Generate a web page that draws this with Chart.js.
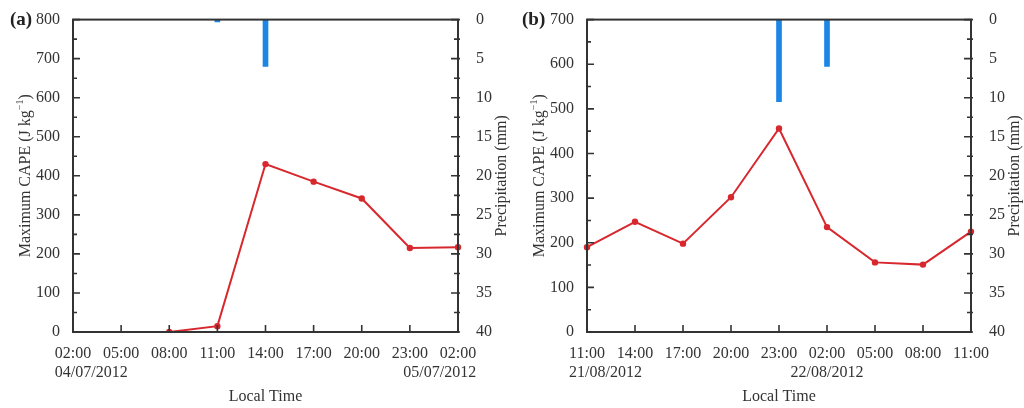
<!DOCTYPE html>
<html lang="en">
<head>
<meta charset="UTF-8">
<title>Maximum CAPE and precipitation</title>
<script src="https://cdn.jsdelivr.net/npm/chart.js"></script>
<style>
    body { margin: 0; background: #fff; }
    .row { display: flex; width: 1024px; height: 408px; }
    canvas { display: block; }
</style>
</head>
<body>
<div class="row">
    <canvas id="chartA" width="512" height="408"></canvas>
    <canvas id="chartB" width="512" height="408"></canvas>
</div>
<script>
// panel (a)
const timesA = ['02:00', '05:00', '08:00', '11:00', '14:00', '17:00', '20:00', '23:00', '02:00'];
const datesA = ['04/07/2012', '', '', '', '', '', '', '', '05/07/2012'];
const capeA = [null, null, 0, 15, 430, 385, 342, 215, 217];
const rainA = [null, null, null, 0.3, 6, null, null, null, null];

// panel (b)
const timesB = ['11:00', '14:00', '17:00', '20:00', '23:00', '02:00', '05:00', '08:00', '11:00'];
const datesB = ['21/08/2012', '', '', '', '', '22/08/2012', '', '', ''];
const capeB = [190, 247, 198, 302, 456, 235, 156, 151, 225];
const rainB = [null, null, null, null, 10.5, 6, null, null, null];

const FONT = 'Liberation Serif';
const AXIS = '#333';

const framePlugin = {
    id: 'frame',
    afterDraw(chart, args, opts) {
        const ctx = chart.ctx;
        const a = chart.chartArea;
        const x = chart.scales.x, y = chart.scales.y, y2 = chart.scales.y2;
        ctx.save();
        ctx.strokeStyle = AXIS;
        ctx.lineWidth = 2;
        ctx.strokeRect(a.left, a.top, a.right - a.left, a.bottom - a.top);

        ctx.lineWidth = 1.6;
        ctx.beginPath();
        // x ticks, pointing up
        for (let i = 0; i < chart.data.labels.length; i++) {
            const px = x.getPixelForValue(i);
            ctx.moveTo(px, a.bottom);
            ctx.lineTo(px, a.bottom - 7);
        }
        // left ticks
        for (let v = 0; v <= opts.capeMax; v += 50) {
            const py = y.getPixelForValue(v);
            const len = v % 100 === 0 ? 7 : 4;
            ctx.moveTo(a.left, py);
            ctx.lineTo(a.left + len, py);
        }
        // right ticks
        for (let v = 0; v <= 40; v += 2.5) {
            const py = y2.getPixelForValue(v);
            const len = v % 5 === 0 ? 7 : 4;
            ctx.moveTo(a.right + 2, py);
            ctx.lineTo(a.right - len, py);
        }
        ctx.stroke();

        ctx.fillStyle = '#333';
        ctx.font = '16px "' + FONT + '"';
        ctx.textBaseline = 'middle';

        // date line under the time labels
        const dates = opts.dates;
        for (let i = 0; i < dates.length; i++) {
            if (!dates[i]) continue;
            const px = x.getPixelForValue(i);
            const half = ctx.measureText(chart.data.labels[i]).width / 2;
            if (i === 0) {
                ctx.textAlign = 'left';
                ctx.fillText(dates[i], px - half, a.bottom + 41);
            } else if (i === dates.length - 1) {
                ctx.textAlign = 'right';
                ctx.fillText(dates[i], px + half, a.bottom + 41);
            } else {
                ctx.textAlign = 'center';
                ctx.fillText(dates[i], px, a.bottom + 41);
            }
        }

        // x title
        ctx.textAlign = 'center';
        ctx.fillText('Local Time', (a.left + a.right) / 2, a.bottom + 65);

        // left title
        const midY = (a.top + a.bottom) / 2;
        ctx.save();
        ctx.translate(a.left - 47, midY);
        ctx.rotate(-Math.PI / 2);
        const t1 = 'Maximum CAPE (J kg';
        const w1 = ctx.measureText(t1).width;
        ctx.font = '10px "' + FONT + '"';
        const w2 = ctx.measureText('\u22121').width;
        ctx.font = '16px "' + FONT + '"';
        const w3 = ctx.measureText(')').width;
        let sx = -(w1 + w2 + w3) / 2;
        ctx.textAlign = 'left';
        ctx.fillText(t1, sx, 0);
        ctx.font = '10px "' + FONT + '"';
        ctx.fillText('\u22121', sx + w1, -6);
        ctx.font = '16px "' + FONT + '"';
        ctx.fillText(')', sx + w1 + w2, 0);
        ctx.restore();

        // right title
        ctx.save();
        ctx.translate(a.right + 44, midY);
        ctx.rotate(-Math.PI / 2);
        ctx.textAlign = 'center';
        ctx.fillText('Precipitation (mm)', 0, 0);
        ctx.restore();

        // panel letter
        ctx.font = 'bold 19px "' + FONT + '"';
        ctx.textAlign = 'left';
        ctx.fillStyle = '#222';
        ctx.fillText(opts.panel, opts.panelX, a.top);
        ctx.restore();
    }
};

function makeChart(id, panel, panelX, times, dates, cape, rain, capeMax, plotLeft, plotRight) {
    const tickFont = { family: FONT, size: 16 };
    return new Chart(document.getElementById(id), {
        type: 'bar',
        data: {
            labels: times,
            datasets: [
                {
                    type: 'line',
                    data: cape,
                    yAxisID: 'y',
                    borderColor: '#d8282e',
                    backgroundColor: '#d8282e',
                    borderWidth: 2,
                    pointRadius: 2.2,
                    pointHoverRadius: 2.2,
                    tension: 0,
                    spanGaps: false,
                    order: 1
                },
                {
                    type: 'bar',
                    data: rain,
                    yAxisID: 'y2',
                    backgroundColor: '#1c86e6',
                    barThickness: 5,
                    order: 2
                }
            ]
        },
        options: {
            responsive: false,
            animation: false,
            layout: { padding: { top: 17, left: 0, right: 0, bottom: 0 } },
            plugins: {
                legend: { display: false },
                tooltip: { enabled: false },
                frame: { panel: panel, panelX: panelX, dates: dates, capeMax: capeMax }
            },
            scales: {
                x: {
                    type: 'category',
                    offset: false,
                    grid: { display: false },
                    border: { display: false },
                    ticks: { font: tickFont, color: '#333', padding: 4, maxRotation: 0, autoSkip: false },
                    afterFit: s => { s.height = 76; }
                },
                y: {
                    position: 'left',
                    min: 0,
                    max: capeMax,
                    grid: { display: false },
                    border: { display: false },
                    ticks: { stepSize: 100, font: tickFont, color: '#333', padding: 5 },
                    afterFit: s => { s.width = plotLeft; }
                },
                y2: {
                    position: 'right',
                    min: 0,
                    max: 40,
                    reverse: true,
                    grid: { display: false },
                    border: { display: false },
                    ticks: { stepSize: 5, font: tickFont, color: '#333', padding: 10 },
                    afterFit: s => { s.width = 512 - plotRight; }
                }
            }
        },
        plugins: [framePlugin]
    });
}

makeChart('chartA', '(a)', 10, timesA, datesA, capeA, rainA, 800, 73, 458);
makeChart('chartB', '(b)', 10, timesB, datesB, capeB, rainB, 700, 75, 459);
</script>
</body>
</html>
